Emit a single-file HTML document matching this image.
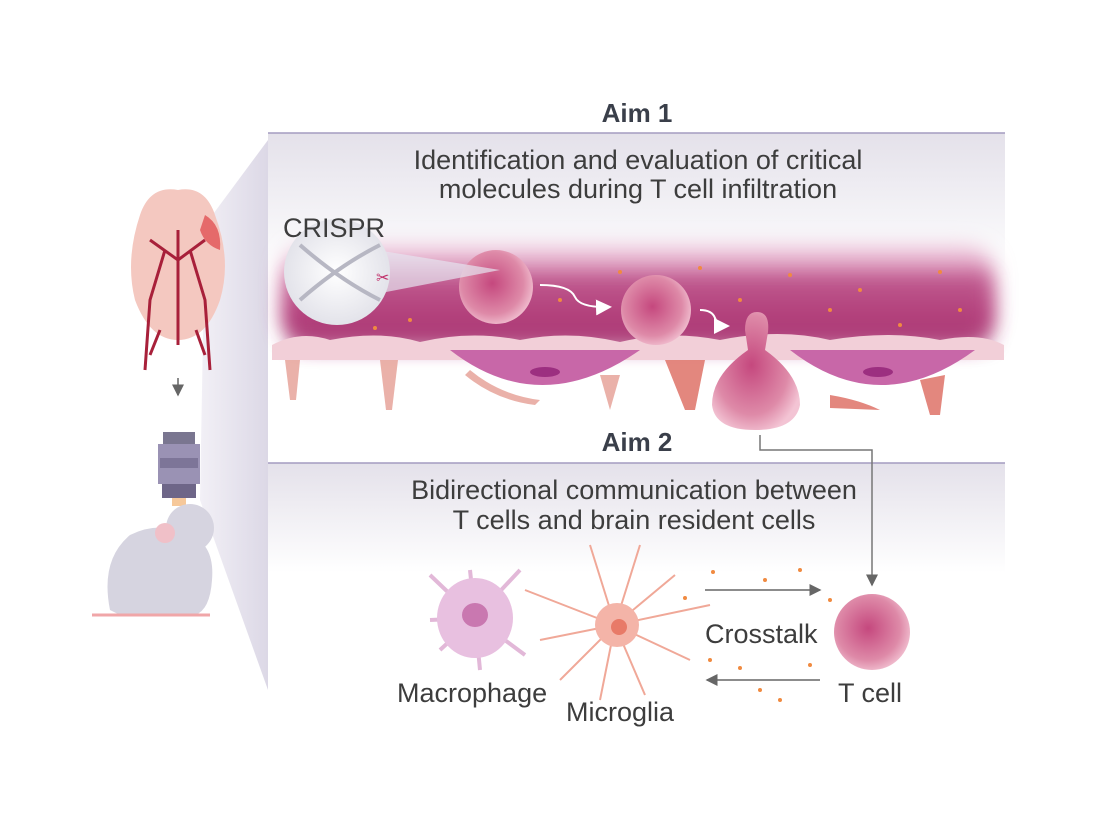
<!DOCTYPE html>
<html><head><meta charset="utf-8"><style>
body{margin:0;background:#fff;}
svg{display:block;font-family:"Liberation Sans",Arial,sans-serif;}
</style></head><body>
<svg width="1098" height="824" viewBox="0 0 1098 824" xmlns="http://www.w3.org/2000/svg">
<defs>
<linearGradient id="p1" x1="0" y1="0" x2="0" y2="1"><stop offset="0" stop-color="#e4e1ea"/><stop offset="1" stop-color="#fff"/></linearGradient>
<linearGradient id="wedge" x1="0" y1="0" x2="1" y2="0"><stop offset="0" stop-color="#f2f0f6"/><stop offset="1" stop-color="#dcd8e6"/></linearGradient>
<linearGradient id="ves" x1="0" y1="0" x2="0" y2="1"><stop offset="0" stop-color="#f3d6e6"/><stop offset="0.35" stop-color="#d27aa8"/><stop offset="0.7" stop-color="#b8407e"/><stop offset="1" stop-color="#9c2c68"/></linearGradient>
<radialGradient id="cell" cx="0.45" cy="0.45" r="0.6"><stop offset="0" stop-color="#c5487e"/><stop offset="0.7" stop-color="#de8aa8"/><stop offset="1" stop-color="#f3c4d4"/></radialGradient>
<radialGradient id="dna" cx="0.5" cy="0.5" r="0.5"><stop offset="0" stop-color="#fff"/><stop offset="1" stop-color="#e3e3ea"/></radialGradient>
<filter id="blur" x="-10%" y="-50%" width="120%" height="200%"><feGaussianBlur stdDeviation="10"/></filter>
<marker id="ah" markerWidth="8" markerHeight="8" refX="7" refY="4" orient="auto"><path d="M0,0 L8,4 L0,8z" fill="#666"/></marker>
<marker id="wh" markerWidth="8" markerHeight="8" refX="7" refY="4" orient="auto"><path d="M0,0 L8,4 L0,8z" fill="#fff"/></marker>
</defs>
<polygon points="205,225 268,140 268,690 200,500" fill="url(#wedge)"/>
<rect x="268" y="133" width="737" height="140" fill="url(#p1)"/>
<rect x="268" y="463" width="737" height="110" fill="url(#p1)"/>
<line x1="268" y1="133" x2="1005" y2="133" stroke="#a49cc0" stroke-width="1.5"/>
<line x1="268" y1="463" x2="1005" y2="463" stroke="#a49cc0" stroke-width="1.5"/>
<text x="637" y="122" font-size="26" font-weight="bold" fill="#3a3f4a" text-anchor="middle">Aim 1</text>
<text x="637" y="451" font-size="26" font-weight="bold" fill="#3a3f4a" text-anchor="middle">Aim 2</text>
<g font-size="27" fill="#3d3d3d" text-anchor="middle">
<text x="638" y="169">Identification and evaluation of critical</text>
<text x="638" y="198">molecules during T cell infiltration</text>
<text x="634" y="499">Bidirectional communication between</text>
<text x="634" y="529">T cells and brain resident cells</text>
</g>
<!-- vessel -->
<rect x="282" y="245" width="712" height="100" rx="30" fill="url(#ves)" filter="url(#blur)"/>
<rect x="290" y="275" width="700" height="70" fill="#b0407a" opacity="0.6" filter="url(#blur)"/>
<g fill="#f08a40">
<circle cx="620" cy="272" r="2"/><circle cx="700" cy="268" r="2"/><circle cx="790" cy="275" r="2"/><circle cx="860" cy="290" r="2"/><circle cx="940" cy="272" r="2"/><circle cx="960" cy="310" r="2"/><circle cx="900" cy="325" r="2"/><circle cx="830" cy="310" r="2"/><circle cx="375" cy="328" r="2"/><circle cx="410" cy="320" r="2"/><circle cx="560" cy="300" r="2"/><circle cx="740" cy="300" r="2"/>
</g>
<path d="M272,345 Q300,330 330,340 Q380,330 420,342 Q470,330 520,340 Q570,330 620,342 Q670,330 720,340 Q780,328 830,340 Q890,330 940,340 Q980,332 1004,345 L1004,360 L272,360z" fill="#f2cfd8"/>
<path d="M450,350 Q540,420 640,350z" fill="#c867a8"/>
<path d="M790,350 Q880,420 975,350z" fill="#c867a8"/>
<ellipse cx="545" cy="372" rx="15" ry="5" fill="#9c2f80"/>
<ellipse cx="878" cy="372" rx="15" ry="5" fill="#9c2f80"/>
<g fill="#e8a9a0" opacity="0.9">
<path d="M285,360 L300,360 L296,400 L290,400z"/><path d="M380,360 L398,360 L392,410 L386,410z"/><path d="M470,370 Q500,395 540,400 L535,405 Q495,400 465,375z"/><path d="M600,375 L620,375 L610,410z"/>
<path d="M665,360 L705,360 L695,410 L685,410z" fill="#e07a70"/><path d="M830,395 Q860,400 880,410 L830,408z" fill="#e07a70"/><path d="M920,380 L945,375 L940,415 L930,415z" fill="#e07a70"/>
</g>
<circle cx="496" cy="287" r="37" fill="url(#cell)"/>
<circle cx="656" cy="310" r="35" fill="url(#cell)"/>
<path d="M745,330 Q745,312 757,312 Q770,312 768,332 L765,350 Q800,375 800,405 Q795,430 755,430 Q715,430 712,405 Q712,375 748,350z" fill="url(#cell)"/>
<path d="M540,285 Q570,285 575,297 Q580,308 610,307" stroke="#fff" stroke-width="2" fill="none" marker-end="url(#wh)"/>
<path d="M700,310 Q712,310 715,318 Q718,326 728,326" stroke="#fff" stroke-width="2" fill="none" marker-end="url(#wh)"/>
<polygon points="345,245 500,270 345,300" fill="#e6e4ef" opacity="0.7"/>
<circle cx="337" cy="272" r="53" fill="url(#dna)"/>
<path d="M300,245 Q340,280 380,300 M300,300 Q340,265 380,245" stroke="#b7b7c3" stroke-width="4" fill="none"/>
<text x="376" y="283" font-size="16" fill="#c0306a">✂</text>
<text x="283" y="237" font-size="27" fill="#3d3d3d">CRISPR</text>
<path d="M760,435 L760,450 L872,450 L872,585" stroke="#777" stroke-width="1.5" fill="none" marker-end="url(#ah)"/>
<g stroke="#e2b8d8" stroke-width="4" fill="none">
<path d="M475,618 L430,575 M475,618 L440,650 M475,618 L520,570 M475,618 L525,655 M475,618 L470,570 M475,618 L480,670 M475,618 L430,620"/>
</g>
<ellipse cx="475" cy="618" rx="38" ry="40" fill="#e8c0e0"/>
<ellipse cx="475" cy="615" rx="13" ry="12" fill="#c978b0"/>
<g stroke="#f0a898" stroke-width="2" fill="none">
<path d="M615,625 L525,590 M615,625 L540,640 M615,625 L590,545 M615,625 L640,545 M615,625 L710,605 M615,625 L690,660 M615,625 L600,700 M615,625 L645,695 M615,625 L560,680 M615,625 L675,575"/>
</g>
<circle cx="617" cy="625" r="22" fill="#f4b4a8"/>
<circle cx="619" cy="627" r="8" fill="#e87a68"/>
<circle cx="872" cy="632" r="38" fill="url(#cell)"/>
<line x1="705" y1="590" x2="820" y2="590" stroke="#666" stroke-width="1.5" marker-end="url(#ah)"/>
<line x1="820" y1="680" x2="707" y2="680" stroke="#666" stroke-width="1.5" marker-end="url(#ah)"/>
<g fill="#f08a40"><circle cx="765" cy="580" r="2"/><circle cx="830" cy="600" r="2"/><circle cx="713" cy="572" r="2"/><circle cx="800" cy="570" r="2"/><circle cx="760" cy="690" r="2"/><circle cx="780" cy="700" r="2"/><circle cx="810" cy="665" r="2"/><circle cx="710" cy="660" r="2"/><circle cx="740" cy="668" r="2"/><circle cx="685" cy="598" r="2"/></g>
<g font-size="27" fill="#3d3d3d">
<text x="397" y="702">Macrophage</text><text x="566" y="721">Microglia</text><text x="705" y="643">Crosstalk</text><text x="838" y="702">T cell</text>
</g>
<path d="M178,190 Q150,185 140,215 Q125,260 135,300 Q150,340 178,340 Q206,340 220,300 Q232,260 215,215 Q205,185 178,190z" fill="#f4c8c0"/>
<path d="M205,215 Q222,225 220,250 Q205,245 200,230z" fill="#e56a6a"/>
<g stroke="#a8203a" stroke-width="3" fill="none">
<path d="M178,230 L178,345 M165,250 L150,300 L145,370 M190,250 L205,300 L210,370 M150,240 L178,260 L205,240 M160,330 L150,355 M196,330 L205,355"/>
</g>
<line x1="178" y1="378" x2="178" y2="395" stroke="#666" stroke-width="1.5" marker-end="url(#ah)"/>
<rect x="163" y="432" width="32" height="12" fill="#7a7690"/>
<rect x="158" y="444" width="42" height="40" fill="#9a92b4"/>
<rect x="160" y="458" width="38" height="10" fill="#7d7598"/>
<rect x="162" y="484" width="34" height="14" fill="#6e6688"/>
<rect x="172" y="498" width="14" height="8" fill="#f6c89a"/>
<path d="M110,610 Q100,560 130,535 Q160,520 190,535 Q215,545 212,580 Q210,610 195,615 L120,615z" fill="#d6d4e0"/>
<circle cx="190" cy="528" r="24" fill="#d6d4e0"/>
<circle cx="165" cy="533" r="10" fill="#f0c0c8"/>
<line x1="92" y1="615" x2="210" y2="615" stroke="#f0a6a8" stroke-width="3"/>
</svg>
</body></html>
